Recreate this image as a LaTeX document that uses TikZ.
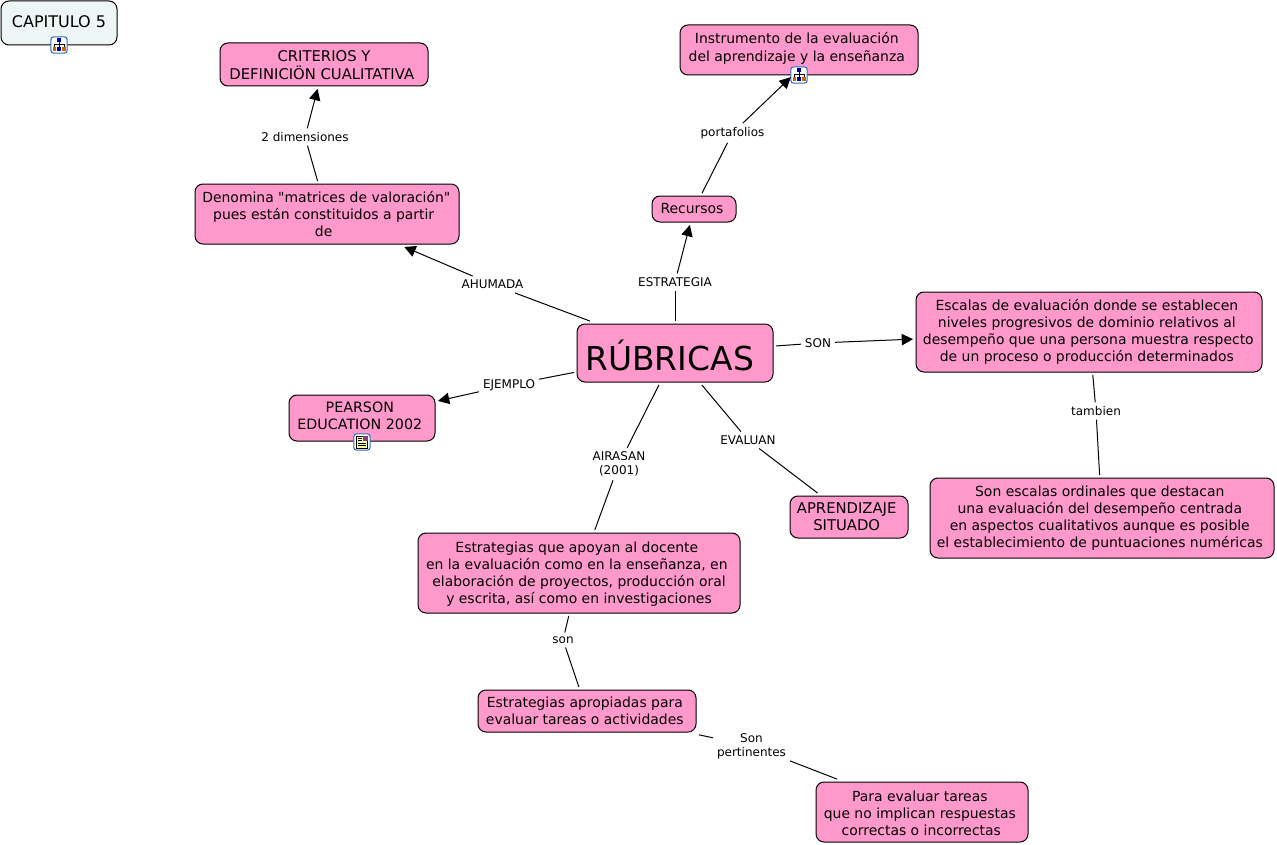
\documentclass[tikz,border=0pt]{standalone}
\usepackage{fontspec}
\setmainfont{DejaVu Sans}
\newfontfamily\qfont{DejaVu Sans}
\usetikzlibrary{arrows.meta,calc}
\definecolor{cpink}{HTML}{FF99CC}
\definecolor{cpale}{HTML}{EEF5F5}
\definecolor{iconblue}{HTML}{2F6FC0}
\tikzset{
  x=0.75pt,y=-0.75pt,
  concept/.style={draw=black,line width=0.75pt,fill=cpink,rounded corners=6pt,inner sep=0pt,outer sep=2.2pt,
    align=center,font=\fontsize{10.45}{12.9}\selectfont,text=black},
  capsconcept/.style={concept,font=\fontsize{11.1}{12.9}\selectfont},
  linklabel/.style={inner sep=1pt,outer sep=2pt,align=center,font=\fontsize{9}{10.6}\selectfont,text=black},
  conn/.style={line width=0.75pt,draw=black},
  arrowconn/.style={conn,-{Triangle[length=8.5pt,width=8.5pt]}},
  iconbox/.style={draw=iconblue,line width=0.8pt,fill=white,rounded corners=2pt,minimum size=12.2pt,inner sep=0pt,outer sep=0pt},
}
\newcommand{\cbox}[7]{% name, x1,y1,x2,y2, opts, text
  \node[concept,minimum width=#4*0.75pt-#2*0.75pt,minimum height=#5*0.75pt-#3*0.75pt,#6] (#1) at ({(#2+#4)/2},{(#3+#5)/2}) {#7};}
\newcommand{\shiftup}[2]{\raisebox{\dimexpr0.75\dimexpr #1\relax-2.5pt\relax}[0pt][0pt]{\begin{tabular}{@{}c@{}}#2\end{tabular}}}
\newcommand{\trsp}{\kern3.3pt}
\newcommand{\treeicon}[2]{% name, position
  \node[iconbox] (#1) at (#2) {};
  \draw[line width=0.5pt,black] ($(#1)+(-5,2)$) -- ++(0,-3) -- ++(10,0) -- ++(0,3) ($(#1)+(0,-3)$) -- ++(0,5);
  \fill[blue!60!black] ($(#1)+(-2,-6.5)$) rectangle ++(4,4);
  \fill[orange!80!black] ($(#1)+(-6.5,2)$) rectangle ++(3.5,4);
  \fill[orange!80!black] ($(#1)+(3,2)$) rectangle ++(3.5,4);
  \fill[blue!60!black] ($(#1)+(-1.7,2)$) rectangle ++(3.5,4);
}
\newcommand{\texticon}[2]{%
  \node[iconbox] (#1) at (#2) {};
  \draw[line width=0.5pt,black,fill=yellow!35] ($(#1)+(-5.5,-6)$) rectangle ++(11,12);
  \fill[blue!50!orange] ($(#1)+(0.5,-6)$) rectangle ++(5,4.5);
  \draw[line width=0.5pt] ($(#1)+(-4,-4)$) -- ++(3.5,0) ($(#1)+(-4,-1.5)$) -- ++(3.5,0) ($(#1)+(-4,1)$) -- ++(8,0) ($(#1)+(-4,3.5)$) -- ++(8,0);
}
\begin{document}
\begin{tikzpicture}
\useasboundingbox (0,0) rectangle (1277,845);
\cbox{cap}{1}{1}{117}{45}{fill=cpale,font=\fontsize{12}{14}\selectfont}{\shiftup{-1pt}{CAPITULO 5}}
\cbox{crit}{220}{43}{428}{86}{capsconcept}{\shiftup{-3pt}{CRITERIOS Y\\DEFINICIÖN CUALITATIVA\trsp}}
\cbox{inst}{680}{25}{918}{75}{}{\shiftup{1pt}{Instrumento de la evaluación\trsp\\del aprendizaje y la enseñanza\trsp}}
\cbox{recu}{652}{196}{736}{222}{}{Recursos\kern3pt}
\cbox{deno}{195}{184}{459}{244}{}{Denomina {\qfont"}matrices de valoración{\qfont"}\kern1pt\\pues están constituidos a partir\kern5pt\\de\kern5pt}
\cbox{rub}{577}{324}{773}{382}{font=\fontsize{24.7}{30}\selectfont}{\shiftup{-13pt}{RÚBRICAS\kern8pt}}
\cbox{esc}{916}{292}{1262}{372}{}{Escalas de evaluación donde se establecen\trsp\\niveles progresivos de dominio relativos al\trsp\\desempeño que una persona muestra respecto\kern1pt\\de un proceso o producción determinados\trsp}
\cbox{pear}{289}{395}{435}{441}{font=\fontsize{10.7}{12.9}\selectfont}{\shiftup{0.5pt}{PEARSON\trsp\\EDUCATION 2002\trsp}}
\cbox{estr}{418}{533}{740}{613}{}{\shiftup{-1.5pt}{Estrategias que apoyan al docente\trsp\\en la evaluación como en la enseñanza, en\trsp\\elaboración de proyectos, producción oral\\y escrita, así como en investigaciones}}
\cbox{apre}{790}{496}{908}{538}{capsconcept}{APRENDIZAJE\kern3.5pt\\SITUADO\kern3.5pt}
\cbox{ord}{930}{478}{1274}{558}{}{Son escalas ordinales que destacan\trsp\\una evaluación del desempeño centrada\trsp\\en aspectos cualitativos aunque es posible\trsp\\el establecimiento de puntuaciones numéricas\trsp}
\cbox{apro}{478}{690}{696}{732}{}{Estrategias apropiadas para\trsp\\evaluar tareas o actividades\trsp}
\cbox{para}{816}{782}{1028}{842}{}{\shiftup{-3pt}{Para evaluar tareas\trsp\\que no implican respuestas\trsp\\correctas o incorrectas\kern1pt}}
\treeicon{icap}{59,45}
\treeicon{iinst}{799,75}
\texticon{ipear}{362,442}
\node[linklabel] (l2d) at (305,137) {2 dimensiones};
\node[linklabel] (lport) at (732.5,133) {portafolios};
\node[linklabel] (lestr) at (675,282) {ESTRATEGIA};
\node[linklabel] (lahu) at (492.5,284.5) {AHUMADA};
\node[linklabel] (lson) at (818,343) {SON};
\node[linklabel] (leje) at (509,385) {EJEMPLO};
\node[linklabel] (lair) at (619,464) {AIRASAN\\(2001)};
\node[linklabel] (leva) at (748,440) {EVALUAN};
\node[linklabel] (ltam) at (1096,411) {tambien};
\node[linklabel] (lsn) at (563,640) {son};
\node[linklabel] (lper) at (751.5,746) {Son\\pertinentes};
\draw[conn] (deno) -- (l2d); \draw[arrowconn] (l2d) -- (crit);
\draw[conn] (recu) -- (lport); \draw[arrowconn] (lport) -- (iinst.195);
\draw[conn] (rub) -- (lestr); \draw[arrowconn] (lestr) -- (recu);
\draw[conn] (rub) -- (lahu); \draw[arrowconn] (lahu) -- (deno);
\draw[conn] (rub) -- (lson); \draw[arrowconn] (lson) -- (esc);
\draw[conn] (rub) -- (leje); \draw[arrowconn] (leje) -- (pear);
\draw[conn] (rub) -- (lair); \draw[conn] (lair) -- (estr);
\draw[conn] (rub) -- (leva); \draw[conn] (leva) -- (apre);
\draw[conn] (esc) -- (ltam); \draw[conn] (ltam) -- (ord);
\draw[conn] (estr) -- (lsn); \draw[conn] (lsn) -- (apro);
\draw[conn] (apro) -- (lper); \draw[conn] (lper) -- (para);
\end{tikzpicture}
\end{document}
